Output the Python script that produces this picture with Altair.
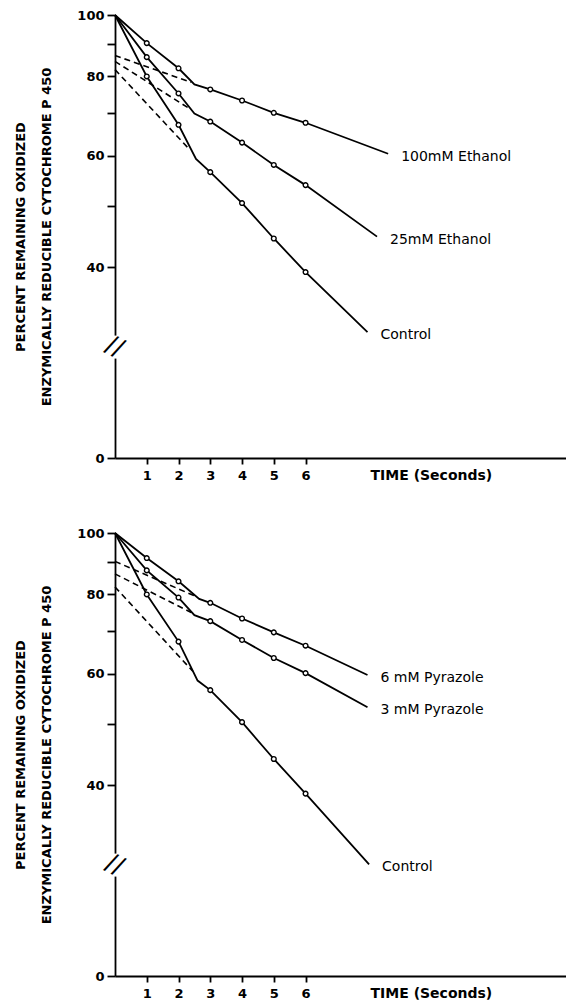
import altair as alt
import pandas as pd

# ---------------- data ----------------
times = [1, 2, 3, 4, 5, 6]

# Upper panel: ethanol
top_names = ["100mM Ethanol", "25mM Ethanol", "Control"]
top_values = [
    [90.3, 82.4, 76.3, 73.3, 70.1, 67.6],
    [85.8, 75.2, 67.9, 62.9, 58.0, 53.9],
    [80.0, 67.1, 56.5, 50.5, 44.4, 39.3],
]
top_break_t = [2.5, 2.5, 2.55]
top_break_v = [77.7, 69.9, 59.3]
top_end_t = [8.6, 8.25, 7.95]
top_end_v = [60.4, 44.7, 31.6]
top_extrap_v0 = [86.3, 84.5, 82.0]
top_extrap_t1 = [2.4, 2.3, 2.3]
top_extrap_v1 = [78.3, 71.4, 61.7]

# Lower panel: pyrazole
bot_names = ["6 mM Pyrazole", "3 mM Pyrazole", "Control"]
bot_values = [
    [91.3, 83.9, 77.6, 73.3, 69.7, 66.4],
    [87.3, 79.1, 72.6, 67.8, 63.5, 60.1],
    [80.0, 67.4, 56.5, 50.3, 44.0, 38.8],
]
bot_break_t = [2.65, 2.5, 2.6]
bot_break_v = [78.7, 74.2, 58.5]
bot_end_t = [7.95, 7.95, 8.0]
bot_end_v = [59.7, 53.1, 30.0]
bot_extrap_v0 = [90.2, 86.2, 82.2]
bot_extrap_t1 = [2.5, 2.4, 2.45]
bot_extrap_v1 = [79.6, 74.9, 60.5]

start_t, start_v = 0.0, 100.0
y_ticks = [20, 40, 50, 60, 70, 80, 90, 100]   # 20 sits at the broken-axis "0"
x_ticks = [1, 2, 3, 4, 5, 6]
y_title = ["PERCENT REMAINING OXIDIZED", "ENZYMICALLY REDUCIBLE CYTOCHROME P 450"]
x_title = "TIME (Seconds)"

FONT = "DejaVu Sans"


def frames(names, values, brk_t, brk_v, end_t, end_v, ex_v0, ex_t1, ex_v1):
    line_rows, pt_rows, dash_rows, lab_rows = [], [], [], []
    for i, name in enumerate(names):
        verts = [(start_t, start_v)] + list(zip(times, values[i])) + [
            (brk_t[i], brk_v[i]), (end_t[i], end_v[i])]
        verts.sort()
        for t, v in verts:
            line_rows.append({"series": name, "t": t, "v": v})
        for t, v in zip(times, values[i]):
            pt_rows.append({"series": name, "t": t, "v": v})
        dash_rows.append({"series": name, "t": 0.0, "v": ex_v0[i]})
        dash_rows.append({"series": name, "t": ex_t1[i], "v": ex_v1[i]})
        lab_rows.append({"series": name, "t": end_t[i], "v": end_v[i]})
    return (pd.DataFrame(line_rows), pd.DataFrame(pt_rows),
            pd.DataFrame(dash_rows), pd.DataFrame(lab_rows))


def panel(names, values, brk_t, brk_v, end_t, end_v, ex_v0, ex_t1, ex_v1):
    line_df, pt_df, dash_df, lab_df = frames(names, values, brk_t, brk_v,
                                             end_t, end_v, ex_v0, ex_t1, ex_v1)
    x = alt.X("t:Q",
              scale=alt.Scale(domain=[0, 14.2], nice=False, zero=False),
              axis=alt.Axis(values=x_ticks, format="d", title=x_title,
                            grid=False, tickSize=6, labelPadding=5,
                            titleX=255, titleY=17, titleAlign="left",
                            titleBaseline="middle", titleFontSize=14))
    y = alt.Y("v:Q",
              scale=alt.Scale(type="log", domain=[20, 100], nice=False, zero=False),
              axis=alt.Axis(values=y_ticks, format="d", title=y_title,
                            grid=False, tickSize=8, labelPadding=3,
                            titlePadding=23, titleLineHeight=26,
                            labelExpr="datum.value == 20 ? '0' : "
                                      "(datum.value == 50 || datum.value == 70 || datum.value == 90) ? '' : datum.label"))

    lines = alt.Chart(line_df).mark_line(color="black", strokeWidth=1.8).encode(
        x=x, y=y, detail="series:N", order="t:Q")
    dashes = alt.Chart(dash_df).mark_line(color="black", strokeWidth=1.6,
                                          strokeDash=[6, 4]).encode(
        x=x, y=y, detail="series:N")
    pts = alt.Chart(pt_df).mark_point(shape="circle", filled=False, color="black",
                                      fill="white", fillOpacity=1, opacity=1,
                                      size=22, strokeWidth=1.4).encode(x=x, y=y)
    labels = alt.Chart(lab_df).mark_text(align="left", baseline="middle", dx=13, dy=3,
                                         font=FONT, fontSize=14, color="black").encode(
        x=x, y=y, text="series:N")
    one = pd.DataFrame({"k": [0]})
    gap = alt.Chart(one).mark_rule(color="white", strokeWidth=6).encode(
        x=alt.datum(0), y=alt.datum(28.7), y2=alt.datum(31.2))
    brk = alt.Chart(one).mark_text(text="//", font=FONT, fontSize=25, angle=25,
                                   color="black", align="center",
                                   baseline="middle").encode(
        x=alt.datum(0), y=alt.datum(30))
    return alt.layer(lines, dashes, pts, labels, gap, brk).properties(width=451, height=443)


top = panel(top_names, top_values, top_break_t, top_break_v, top_end_t, top_end_v,
            top_extrap_v0, top_extrap_t1, top_extrap_v1)
bottom = panel(bot_names, bot_values, bot_break_t, bot_break_v, bot_end_t, bot_end_v,
               bot_extrap_v0, bot_extrap_t1, bot_extrap_v1)

chart = alt.vconcat(top, bottom, spacing=45).properties(
    padding={"left": 14, "top": 9, "right": 0, "bottom": 0},
    background="white",
).configure_view(stroke=None).configure_axis(
    domainColor="black", domainWidth=1.8, tickColor="black", tickWidth=1.8,
    labelFont=FONT, labelFontSize=13, labelFontWeight="bold", labelColor="black",
    titleFont=FONT, titleFontSize=13, titleFontWeight="bold", titleColor="black",
)

chart.save("out.html", embed_options={"renderer": "svg", "actions": False})
